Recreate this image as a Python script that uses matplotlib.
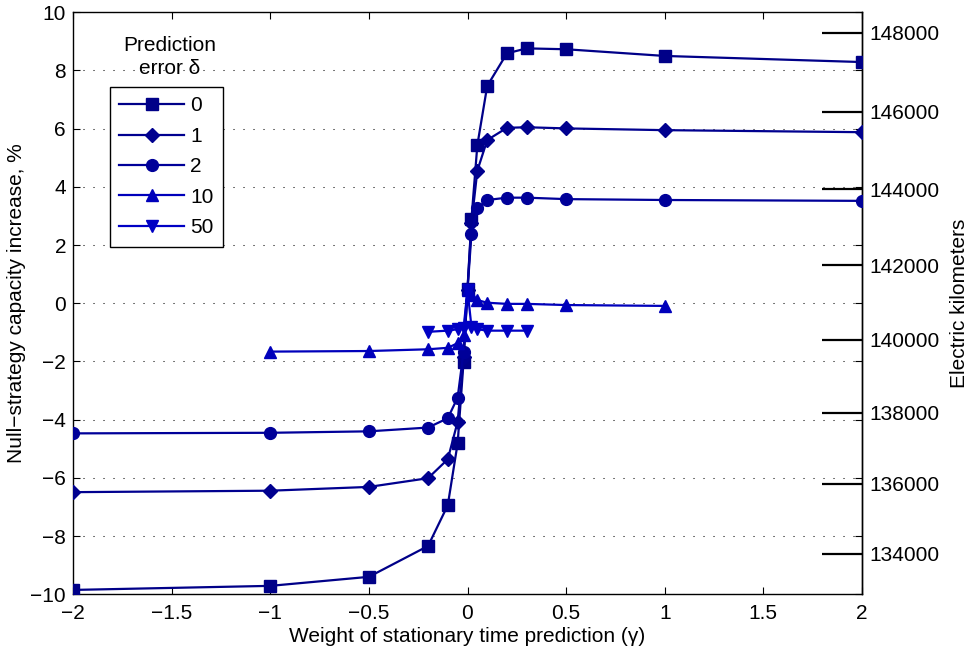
import numpy as np
import matplotlib
matplotlib.use("Agg")
import matplotlib.pyplot as plt
from matplotlib.ticker import FuncFormatter, FixedLocator, MultipleLocator

plt.rcParams['font.family'] = ['Liberation Sans', 'DejaVu Sans']
plt.rcParams['font.size'] = 15

# Weight of stationary time prediction (gamma) for each prediction error delta
gamma_full = [-2, -1, -0.5, -0.2, -0.1, -0.05, -0.02, 0, 0.02, 0.05, 0.1, 0.2, 0.3, 0.5, 1, 2]
gamma_d10 = [-1, -0.5, -0.2, -0.1, -0.05, -0.02, 0, 0.02, 0.05, 0.1, 0.2, 0.3, 0.5, 1]
gamma_d50 = [-0.2, -0.1, -0.05, -0.02, 0, 0.02, 0.05, 0.1, 0.2, 0.3]

# Null-strategy capacity increase, %
inc_d0 = [-9.85, -9.71, -9.40, -8.34, -6.94, -4.81, -2.01, 0.50, 2.89, 5.44, 7.47, 8.59, 8.76, 8.73, 8.50, 8.29]
inc_d1 = [-6.49, -6.44, -6.31, -6.01, -5.36, -4.07, -1.85, 0.47, 2.75, 4.56, 5.61, 6.03, 6.05, 6.01, 5.95, 5.88]
inc_d2 = [-4.47, -4.45, -4.40, -4.27, -3.95, -3.24, -1.66, 0.46, 2.37, 3.26, 3.55, 3.63, 3.63, 3.58, 3.55, 3.52]
inc_d10 = [-1.66, -1.64, -1.58, -1.53, -1.37, -1.10, 0.45, 0.29, 0.11, 0.02, -0.02, -0.02, -0.06, -0.09]
inc_d50 = [-0.98, -0.94, -0.89, -0.86, 0.45, -0.80, -0.89, -0.94, -0.94, -0.94]

delta_labels = ['0', '1', '2', '10', '50']
km_ticks = [134000, 136000, 138000, 140000, 142000, 144000, 146000, 148000]

series = [
    (gamma_full, inc_d0, 's', '#000088'),
    (gamma_full, inc_d1, 'D', '#00008F'),
    (gamma_full, inc_d2, 'o', '#000099'),
    (gamma_d10, inc_d10, '^', '#0000BB'),
    (gamma_d50, inc_d50, 'v', '#0000C4'),
]
marker_sizes = {'s': 8, 'D': 7, 'o': 8.5, '^': 8.5, 'v': 8.5}


def pct_to_km(p):
    # conversion between capacity increase and electric kilometers
    a, b, c = 0.021, 1.278, 0.00665
    p = np.asarray(p, dtype=float)
    disc = np.clip(b * b - 4 * c * (a - p), 1e-9, None)
    return (141.0 + (-b + np.sqrt(disc)) / (2 * c)) * 1000.0


def km_to_pct(km):
    a, b, c = 0.021, 1.278, 0.00665
    d = np.asarray(km, dtype=float) / 1000.0 - 141.0
    return a + b * d + c * d * d


fig = plt.figure(figsize=(9.68, 6.55), dpi=100)
ax = fig.add_axes([73 / 968, 1 - 594.3 / 655, 789 / 968, 582 / 655])

for (g, v, m, col), lab in zip(series, delta_labels):
    ax.plot(g, v, marker=m, color=col, markerfacecolor=col, markeredgecolor=col,
            markersize=marker_sizes[m], linewidth=1.6, label=lab, zorder=3)

ax.set_xlim(-2, 2)
ax.set_ylim(-10, 10)
ax.xaxis.set_major_locator(MultipleLocator(0.5))
ax.yaxis.set_major_locator(MultipleLocator(2))
fmt = FuncFormatter(lambda v, pos: ('%g' % v).replace('-', '\u2212'))
ax.xaxis.set_major_formatter(fmt)
ax.yaxis.set_major_formatter(fmt)

ax.grid(True, axis='y', color='black', linewidth=0.75, linestyle=(0, (1, 8.6)))
ax.set_axisbelow(True)

ax.tick_params(axis='both', direction='in', length=5, width=0.8,
               top=True, right=True, labelsize=15)
ax.tick_params(axis='x', pad=7)
ax.tick_params(axis='y', pad=5)
for s in ax.spines.values():
    s.set_linewidth(1.0)

ax.set_xlabel('Weight of stationary time prediction (\u03b3)', fontsize=15, labelpad=3)
ax.set_ylabel('Null\u2212strategy capacity increase, %', fontsize=15, labelpad=3)

# secondary axis in electric kilometers
sec = ax.secondary_yaxis('right', functions=(pct_to_km, km_to_pct))
sec.yaxis.set_major_locator(FixedLocator(km_ticks))
sec.yaxis.set_major_formatter(FuncFormatter(lambda v, pos: '%d' % round(v)))
sec.tick_params(direction='in', length=29, width=1.6, pad=5, labelsize=15)
sec.set_ylabel('Electric kilometers', fontsize=15, labelpad=8)
sec.spines['right'].set_linewidth(1.0)

leg = ax.legend(loc='upper left',
                bbox_to_anchor=((110 - 73) / 789, (594.3 - 87) / 582),
                borderaxespad=0, frameon=True, fancybox=False,
                handlelength=3.1, handletextpad=0.3, labelspacing=0.55,
                borderpad=0.45, fontsize=15)
leg.get_frame().set_edgecolor('black')
leg.get_frame().set_linewidth(1.0)
leg.get_frame().set_alpha(1)

ax.text((170 - 73) / 789, (594.3 - 57) / 582, 'Prediction\nerror \u03b4',
        transform=ax.transAxes, ha='center', va='center', fontsize=15,
        linespacing=1.3)

fig.savefig('out.png', dpi=100)
